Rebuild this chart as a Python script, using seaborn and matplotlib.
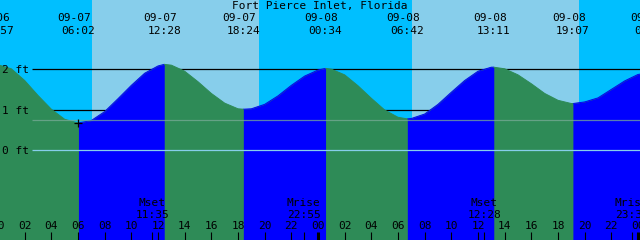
import matplotlib
matplotlib.use("Agg")
import matplotlib.pyplot as plt
import seaborn as sns
import pandas as pd

# ---------------- data ----------------
title = "Fort Pierce Inlet, Florida"

# hourly tide heights (ft), hours since 09-07 00:00
hour_t = list(range(-1, 50))
hour_h = [2.06, 2.11, 2.01, 1.72, 1.35, 1.01, 0.76, 0.67, 0.73, 0.95,
          1.27, 1.60, 1.90, 2.08, 2.10, 1.95, 1.69, 1.40, 1.16, 1.02,
          1.02, 1.13, 1.34, 1.60, 1.83, 1.98, 2.00, 1.86, 1.59, 1.28,
          0.99, 0.81, 0.78, 0.89, 1.13, 1.43, 1.72, 1.95, 2.05, 2.01,
          1.86, 1.64, 1.40, 1.23, 1.15, 1.19, 1.29, 1.50, 1.71, 1.87,
          1.92]

# high / low tide events
event_t = [-0.05, 6.033, 12.467, 18.40, 24.567, 30.70, 37.183, 43.117, 48.98]
event_h = [2.11, 0.67, 2.12, 1.01, 2.02, 0.77, 2.05, 1.15, 1.92]
event_date = ["09-06", "09-07", "09-07", "09-07", "09-08", "09-08", "09-08", "09-08", "09-09"]
event_time = ["23:57", "06:02", "12:28", "18:24", "00:34", "06:42", "13:11", "19:07", "00:59"]

# moon events
moon_t = [11.583, 22.917, 36.467, 47.52]
moon_kind = ["Mset", "Mrise", "Mset", "Mrise"]
moon_time = ["11:35", "22:55", "12:28", "23:31"]

# sun events
sunrise_t = [7.05, 31.03]
sunset_t = [19.55, 43.60]

depth_ft = [0, 1, 2]
depth_labels = ["0 ft", "1 ft", "2 ft"]
msl_ft = 0.735
hour_ticks = list(range(0, 50, 2))
hour_labels = ["%02d" % (h % 24) for h in hour_ticks]

# ---------------- styles / layout ----------------
NIGHT = "#00BFFF"
DAY = "#87CEEB"
EBB = "#2E8B57"
FLOOD = "#0000FF"
FONT = "DejaVu Sans Mono"
FS = 8

W, H = 640, 240
PX_PER_HOUR = W / 48.0
X0 = 0.15
PX_PER_FT = 40.4
Y_ZERO_PX = 150.0


def hx(px):
    return X0 + px / PX_PER_HOUR


def fy(py):
    return (Y_ZERO_PX - py) / PX_PER_FT


sns.set_style("white")
plt.rcParams["font.family"] = [FONT, "DejaVu Sans"]

fig = plt.figure(figsize=(6.4, 2.4), dpi=100)
ax = fig.add_axes([0, 0, 1, 1])
ax.set_xlim(hx(0), hx(W))
ax.set_ylim(fy(H), fy(0))
ax.axis("off")

# background day / night
ax.axvspan(hx(-10), sunrise_t[0], color=NIGHT, lw=0, zorder=0)
ax.axvspan(sunrise_t[0], sunset_t[0], color=DAY, lw=0, zorder=0)
ax.axvspan(sunset_t[0], sunrise_t[1], color=NIGHT, lw=0, zorder=0)
ax.axvspan(sunrise_t[1], sunset_t[1], color=DAY, lw=0, zorder=0)
ax.axvspan(sunset_t[1], hx(W + 10), color=NIGHT, lw=0, zorder=0)

# depth lines (behind the water)
ax.hlines([1, 2], hx(32), hx(W), color="black", lw=0.9, zorder=1)

# tide curve
tide = (pd.DataFrame({"t": hour_t + event_t, "h": hour_h + event_h})
        .sort_values("t").drop_duplicates("t").reset_index(drop=True))
bottom = fy(H) - 1

ax.fill_between(tide["t"], tide["h"], bottom, color=EBB, lw=0, zorder=2)

bounds = [tide["t"].min()] + event_t
rows = []
for i in range(len(bounds) - 1):
    a, b = bounds[i], bounds[i + 1]
    if i == 0:
        phase = "flood"
    else:
        phase = "ebb" if event_h[i - 1] > event_h[i] else "flood"
    sub = tide[(tide["t"] >= a) & (tide["t"] <= b)]
    if phase == "flood":
        ax.fill_between(sub["t"], sub["h"], bottom, color=FLOOD, lw=0, zorder=3)
    for t, h in zip(sub["t"], sub["h"]):
        rows.append({"t": t, "h": h, "seg": i, "phase": phase})
edge = pd.DataFrame(rows)
sns.lineplot(data=edge, x="t", y="h", hue="phase", units="seg", estimator=None,
             palette={"ebb": EBB, "flood": FLOOD}, lw=0.7, legend=False,
             ax=ax, zorder=4)

# datum and mean-level lines over the water
ax.hlines([msl_ft], hx(32), hx(W), color="#78aa96", alpha=0.75, lw=0.9, zorder=5)
ax.hlines([depth_ft[0]], hx(32), hx(W), color="#87CEEB", lw=0.9, zorder=5)

# depth labels
for d, lab in zip(depth_ft, depth_labels):
    ax.text(hx(2), fy(Y_ZERO_PX - PX_PER_FT * d + 4), lab, ha="left", va="baseline",
            fontsize=FS, family=FONT, color="black", zorder=6)

# low-tide mark
sns.scatterplot(x=[event_t[1]], y=[event_h[1]], marker="+", s=40, color="black",
                linewidth=0.9, ax=ax, zorder=6, legend=False)

# title and event labels
ax.text(hx(320), fy(9), title, ha="center", va="baseline", fontsize=FS,
        family=FONT, color="black", zorder=6)
for t, d, tm in zip(event_t, event_date, event_time):
    ax.text(t - 4 / PX_PER_HOUR, fy(21), d, ha="center", va="baseline",
            fontsize=FS, family=FONT, color="black", zorder=6)
    ax.text(t, fy(34), tm, ha="center", va="baseline",
            fontsize=FS, family=FONT, color="black", zorder=6)

# hour labels and ticks
for t, lab in zip(hour_ticks, hour_labels):
    ax.text(t, fy(229), lab, ha="center", va="baseline", fontsize=FS,
            family=FONT, color="black", zorder=6)
    thick = (t % 24 == 0)
    ax.vlines(t, fy(240), fy(232), color="black", lw=2.2 if thick else 0.8, zorder=6)

# moon events
for t, k, tm in zip(moon_t, moon_kind, moon_time):
    ax.text(t, fy(206), k, ha="center", va="baseline", fontsize=FS,
            family=FONT, color="black", zorder=6)
    ax.text(t, fy(218), tm, ha="center", va="baseline", fontsize=FS,
            family=FONT, color="black", zorder=6)
    ax.vlines(t, fy(240), fy(232), color="black", lw=0.8, zorder=6)

fig.savefig("out.png", dpi=100)
